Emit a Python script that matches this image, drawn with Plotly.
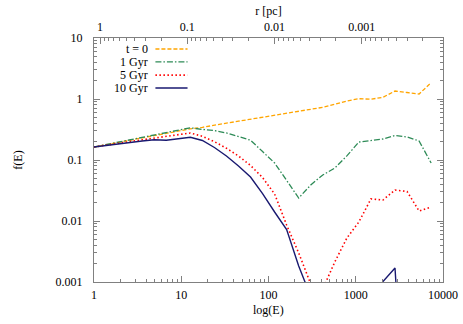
import plotly.graph_objects as go

# ---------------- data ----------------
E = [1.0, 1.374, 1.888, 2.594, 3.565, 4.898, 6.730, 9.247, 12.71, 17.46,
     23.99, 32.96, 45.29, 62.23, 85.51, 117.5, 161.4, 221.8, 304.8, 418.8,
     575.4, 790.7, 1086, 1493, 2051, 2818, 3873, 5321, 7311]

f_t0 = [0.1633, 0.1782, 0.1945, 0.2120, 0.2303, 0.2512, 0.2742, 0.2988, 0.3246, 0.3436,
        0.3750, 0.4009, 0.4325, 0.4645, 0.5012, 0.5365, 0.5763, 0.6209, 0.6757, 0.7311,
        0.8185, 0.9268, 1.011, 0.9925, 1.066, 1.352, 1.278, 1.208, 1.849]

f_1gyr = [0.1633, 0.1788, 0.1958, 0.2143, 0.2346, 0.2570, 0.2812, 0.3081, 0.3373, 0.3174,
          0.3034, 0.2773, 0.2427, 0.2112, 0.1374, 0.0893, 0.0463, 0.0238, 0.0389, 0.0568,
          0.0739, 0.1167, 0.1972, 0.2089, 0.2209, 0.2523, 0.2382, 0.2048, 0.0893]

f_5gyr = [0.1633, 0.1762, 0.1885, 0.2010, 0.2143, 0.2286, 0.2437, 0.2600, 0.2773, 0.2447,
          0.1995, 0.1560, 0.1164, 0.0813, 0.0516, 0.0277, 0.00859, 0.00299, 0.000927, 0.000768,
          0.00213, 0.00526, 0.00964, 0.0230, 0.0221, 0.0322, 0.0305, 0.01459, 0.01698]

f_10gyr = [0.1633, 0.1741, 0.1829, 0.1936, 0.2048, 0.2153, 0.2112, 0.2209, 0.2356, 0.2089,
           0.1603, 0.1164, 0.0797, 0.0526, 0.0282, 0.01405, 0.00726, 0.00183, 0.000578, 1e-6,
           1e-6, 1e-6, 1e-6, 1e-6, 0.00102, 0.0017, 1e-6, 1e-6, 1e-6]

series_names = ["t = 0", "1 Gyr", "5 Gyr", "10 Gyr"]

x_ticks = [1, 10, 100, 1000, 10000]
x_tick_labels = ["1", "10", "100", "1000", "10000"]
y_ticks = [0.001, 0.01, 0.1, 1, 10]
y_tick_labels = ["0.001", "0.01", "0.1", "1", "10"]
r_ticks = [1, 0.1, 0.01, 0.001]
r_tick_labels = ["1", "0.1", "0.01", "0.001"]
LOG_R_AT_E1 = 0.07   # log10 of r [pc] where E = 1  (r falls one decade per decade of E)

# ---------------- styles ----------------
FONT = "Liberation Serif, Times New Roman, serif"
AXIS_COL = "#808080"
styles = [
    dict(color="#FFA500", dash="4px,2px", width=1.3),
    dict(color="#2E8B57", dash="6px,2px,1.5px,2px", width=1.3),
    dict(color="#FF0000", dash="1.5px,2.5px", width=1.6),
    dict(color="#191970", dash="solid", width=1.4),
]
series = [f_t0, f_1gyr, f_5gyr, f_10gyr]

fig = go.Figure()
for name, ys, st in zip(series_names, series, styles):
    fig.add_trace(go.Scatter(x=E, y=ys, mode="lines", name=name, showlegend=False,
                             line=dict(color=st["color"], dash=st["dash"], width=st["width"])))

# invisible trace to anchor the top r axis
fig.add_trace(go.Scatter(x=[10 ** LOG_R_AT_E1, 10 ** (LOG_R_AT_E1 - 4)], y=[1, 1],
                         xaxis="x2", yaxis="y", mode="lines", opacity=0,
                         showlegend=False, hoverinfo="skip"))

def minor_vals(lo, hi):
    out = []
    for d in range(lo, hi):
        for m in range(2, 10):
            out.append(m * 10 ** d)
    return out

tickfont = dict(family=FONT, size=12, color="black")
common = dict(showgrid=False, zeroline=False, automargin=False,
              showline=True, linecolor=AXIS_COL, linewidth=1,
              ticks="inside", ticklen=6, tickcolor=AXIS_COL, tickwidth=1,
              tickfont=tickfont)

fig.update_layout(
    width=463, height=324,
    margin=dict(l=94, r=20, t=38, b=42, autoexpand=False),
    paper_bgcolor="white", plot_bgcolor="white",
    font=dict(family=FONT, size=12, color="black"),
    xaxis=dict(type="log", range=[0, 4], **common,
               tickvals=x_ticks, ticktext=x_tick_labels, ticklabelstandoff=2,
               minor=dict(ticks="inside", ticklen=3, tickcolor=AXIS_COL,
                          tickvals=minor_vals(0, 4), showgrid=False)),
    xaxis2=dict(type="log", range=[LOG_R_AT_E1, LOG_R_AT_E1 - 4], overlaying="x",
                side="top", anchor="y", **common,
                tickvals=r_ticks, ticktext=r_tick_labels, ticklabelstandoff=1,
                minor=dict(ticks="inside", ticklen=3, tickcolor=AXIS_COL,
                           tickvals=minor_vals(-4, 1), showgrid=False),
                title=dict(text="r [pc]", font=dict(family=FONT, size=12), standoff=2)),
    yaxis=dict(type="log", range=[-3, 1], mirror="ticks", **common,
               tickvals=y_ticks, ticktext=y_tick_labels, ticklabelstandoff=8,
               minor=dict(ticks="inside", ticklen=3, tickcolor=AXIS_COL,
                          tickvals=minor_vals(-3, 1), showgrid=False),
               title=dict(text="f(E)", font=dict(family=FONT, size=12), standoff=30)),
)

# bottom axis title placed just under the tick labels
fig.add_annotation(x=0.5, y=-0.113, xref="paper", yref="paper", text="log(E)",
                   showarrow=False, xanchor="center", yanchor="middle", borderpad=0,
                   font=dict(family=FONT, size=12, color="black"))

# gnuplot-style key: right-aligned label followed by a line sample
key_text_x = 0.158
key_line_x0, key_line_x1 = 0.176, 0.268
key_rows = [0.955, 0.902, 0.848, 0.795]
for name, st, ky in zip(series_names, styles, key_rows):
    fig.add_annotation(x=key_text_x, y=ky, xref="paper", yref="paper", text=name,
                       showarrow=False, xanchor="right", yanchor="middle", borderpad=0,
                       font=dict(family=FONT, size=12, color="black"))
    fig.add_shape(type="line", xref="paper", yref="paper",
                  x0=key_line_x0, x1=key_line_x1, y0=ky, y1=ky,
                  line=dict(color=st["color"], dash=st["dash"], width=st["width"]))

fig.write_html("out.html", config={"displayModeBar": False},
               post_script="document.body.style.margin='0';document.body.style.overflow='hidden';")
